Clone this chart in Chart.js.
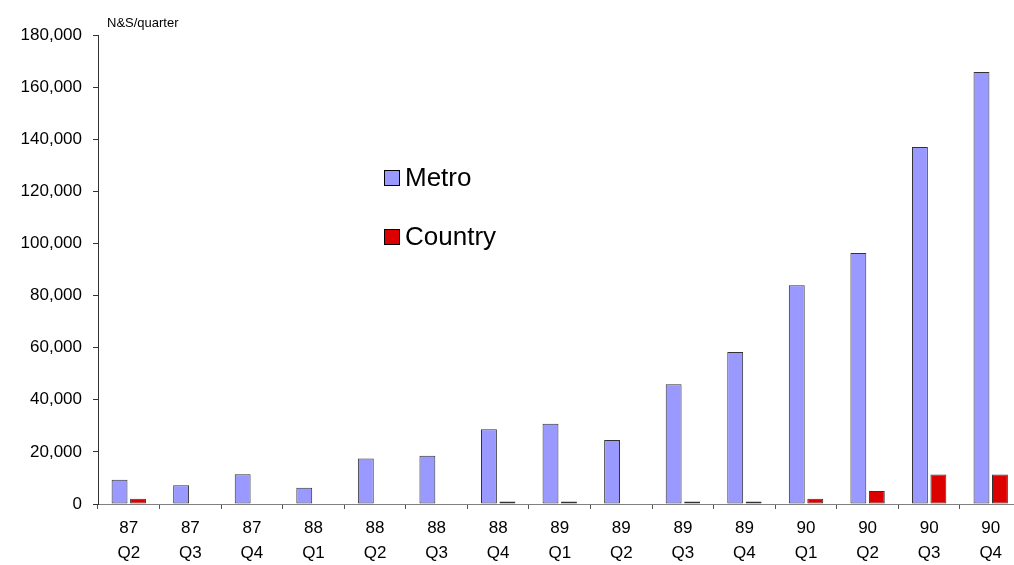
<!DOCTYPE html>
<html>
<head>
<meta charset="utf-8">
<script src="https://cdn.jsdelivr.net/npm/chart.js@4"></script>
<style>
  html, body { margin: 0; padding: 0; background: #fff; overflow: hidden; }
  #wrap { position: relative; width: 1024px; height: 565px; }
</style>
</head>
<body>
<div id="wrap"><canvas id="nsChart"></canvas></div>
<script>
// quarters, years on first line and quarter on second
const years = ['87', '87', '87', '88', '88', '88', '88', '89', '89', '89', '89', '90', '90', '90', '90'];
const quarters = ['Q2', 'Q3', 'Q4', 'Q1', 'Q2', 'Q3', 'Q4', 'Q1', 'Q2', 'Q3', 'Q4', 'Q1', 'Q2', 'Q3', 'Q4'];
const metro = [9300, 7200, 11400, 6200, 17500, 18500, 28700, 30800, 24600, 46000, 58300, 84000, 96300, 137000, 165800];
const country = [2000, 0, 0, 0, 0, 0, 1000, 1000, 0, 1000, 1000, 2000, 5000, 11300, 11300];
const unitLabel = 'N&S/quarter';

const labels = years.map(function (y, i) { return [y, quarters[i]]; });

// title and in-plot legend
const extras = {
  id: 'extras',
  afterDraw: function (chart) {
    const ctx = chart.ctx;
    const area = chart.chartArea;
    ctx.save();
    ctx.fillStyle = '#000';
    ctx.font = '13px "Liberation Sans", Arial, sans-serif';
    ctx.textBaseline = 'middle';
    ctx.textAlign = 'left';
    ctx.fillText(unitLabel, area.left + 9, 23);

    ctx.font = '26px "Liberation Sans", Arial, sans-serif';
    chart.data.datasets.forEach(function (ds, i) {
      const y = 178 + i * 59;
      ctx.fillStyle = ds.backgroundColor;
      ctx.fillRect(384.5, y - 7.5, 15, 15);
      ctx.strokeStyle = '#000';
      ctx.lineWidth = 1;
      ctx.strokeRect(384.5, y - 7.5, 15, 15);
      ctx.fillStyle = '#000';
      ctx.fillText(ds.label, 405, y + 1);
    });
    ctx.restore();
  }
};

let nsCanvas = document.getElementById('nsChart');
let nsChart = new Chart(nsCanvas, {
  type: 'bar',
  data: {
    labels: labels,
    datasets: [{
      label: 'Metro',
      data: metro,
      backgroundColor: '#9999FF',
      borderColor: '#333333',
      borderWidth: 1,
      borderSkipped: false
    },
    {
      label: 'Country',
      data: country,
      backgroundColor: '#DD0000',
      borderColor: '#333333',
      borderWidth: 1,
      borderSkipped: false
    }]
  },
  options: {
    responsive: true,
    maintainAspectRatio: false,
    animation: false,
    layout: { padding: { top: 35, left: 0, right: 2.5, bottom: 0 } },
    datasets: {
      bar: { categoryPercentage: 0.6, barPercentage: 0.86 }
    },
    plugins: {
      legend: { display: false },
      tooltip: { enabled: false }
    },
    scales: {
      x: {
        grid: { display: true, drawOnChartArea: false, tickLength: 5, color: '#555', offset: true },
        border: { display: true, color: '#808080', width: 1 },
        ticks: {
          color: '#000',
          padding: 7,
          maxRotation: 0,
          autoSkip: false,
          font: { family: '"Liberation Sans", Arial, sans-serif', size: 17, lineHeight: 1.47 }
        },
        afterFit: function (scale) { scale.height = 61; }
      },
      y: {
        min: 0,
        max: 180000,
        grid: { display: true, drawOnChartArea: false, tickLength: 5, color: '#333' },
        border: { display: true, color: '#333', width: 1 },
        ticks: {
          stepSize: 20000,
          color: '#000',
          padding: 11,
          font: { family: '"Liberation Sans", Arial, sans-serif', size: 17 },
          callback: function (v) { return v.toLocaleString('en-US'); }
        },
        afterFit: function (scale) { scale.width = 98; }
      }
    }
  },
  plugins: [extras]
});
</script>
</body>
</html>
